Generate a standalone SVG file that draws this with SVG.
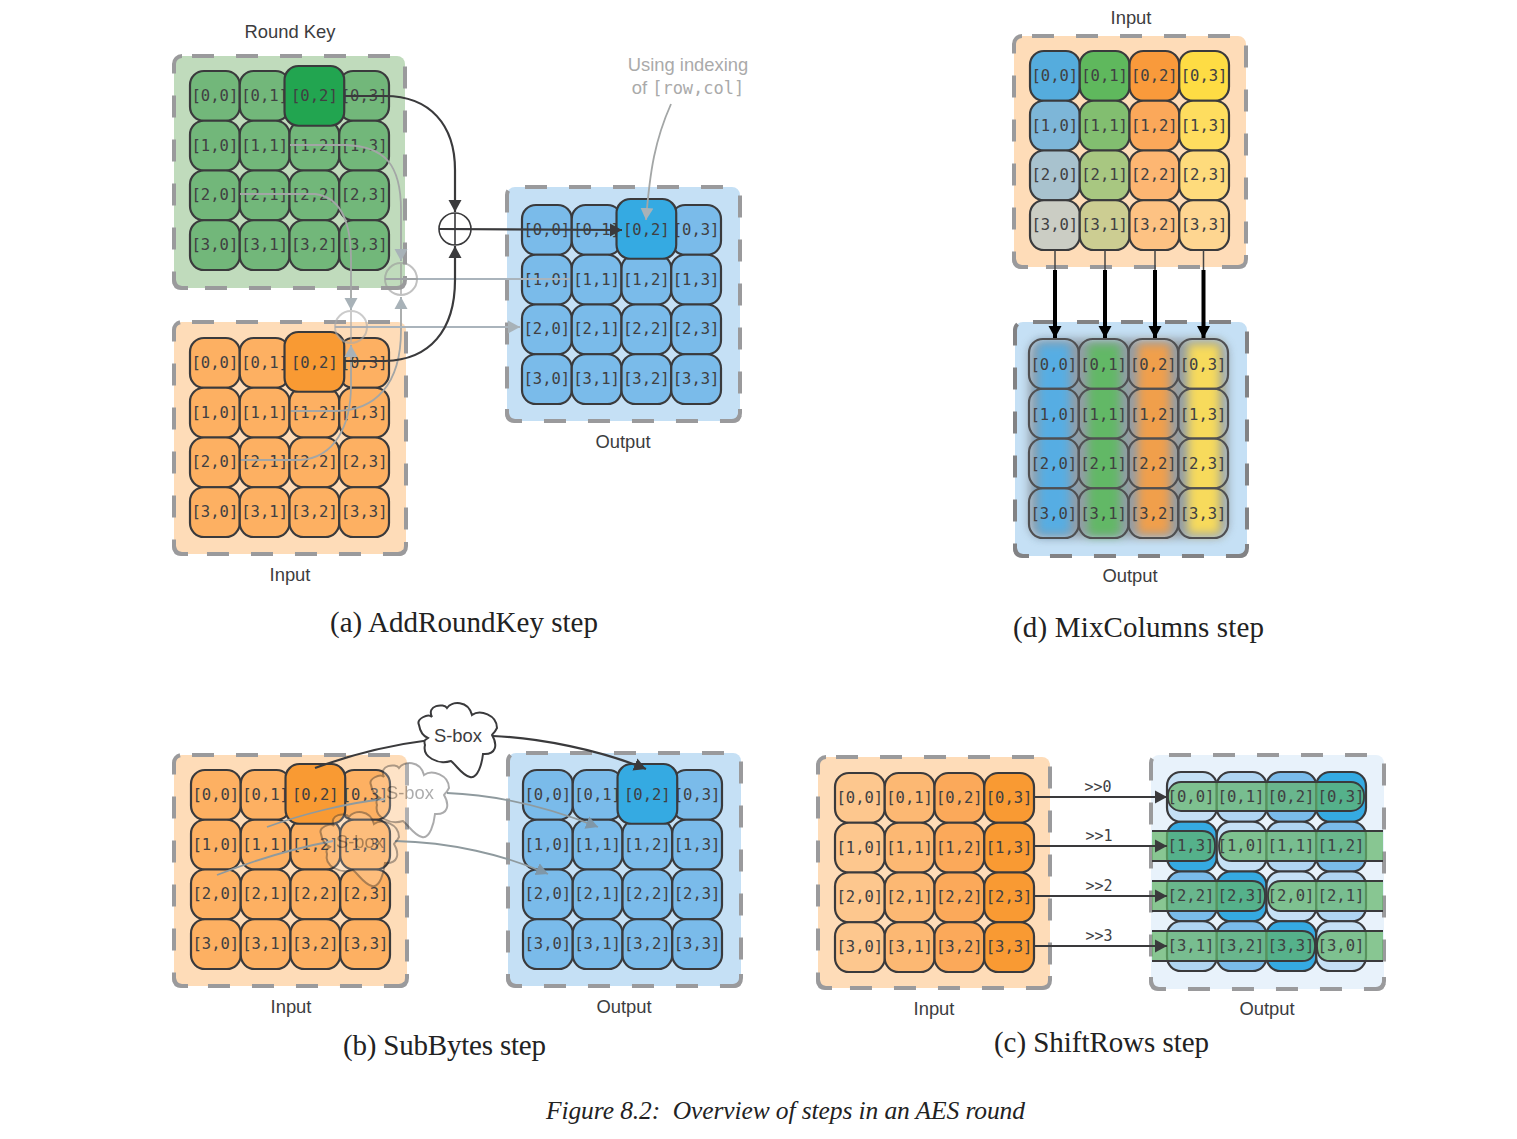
<svg xmlns="http://www.w3.org/2000/svg" width="1517" height="1139" viewBox="0 0 1517 1139">
<style>
.p{stroke:#9a9a9c;stroke-width:4;stroke-dasharray:22 22;stroke-dashoffset:-10}
.pc{fill:none;stroke:#9a9a9c;stroke-width:4}
.pg{fill:#c0dbbc}.po{fill:#fedcb8}.pb{fill:#c5e0f5}.pl{fill:#e8f2fb}
.c{width:50px;height:50px;rx:14px;stroke:#3a3a3c;stroke-width:2.2}
.h{width:60px;height:60px;rx:14px;stroke:#3a3a3c;stroke-width:2.2}
.g{fill:#72b77a}.o{fill:#fdb062}.b{fill:#7abbea}
.t text{font:15.6px "DejaVu Sans Mono",monospace;fill:#404042;text-anchor:middle}
.l{font:18.4px "Liberation Sans",Arial,sans-serif;fill:#3c3c3e;text-anchor:middle}
.cap{font:29px "Liberation Serif",serif;fill:#222}
.fig{font:italic 25.5px "Liberation Serif",serif;fill:#222;white-space:pre}
.d{fill:none;stroke:#3a3a3c;stroke-width:2.2}
.q{fill:none;stroke:#a3a6a6;stroke-width:1.8}
.qb{fill:none;stroke:#8f9a9e;stroke-width:1.8}
.r{fill:none;stroke:#aab4bc;stroke-width:2}
.k{fill:none;stroke:#000;stroke-width:4}
.x{fill:none;stroke:#3a3a3c;stroke-width:1.6}
.cl{fill:#fff;stroke:#3a3a3c;stroke-width:2}
.s{stroke:#3a3a3c;stroke-width:1.8;fill:#62b46a;fill-opacity:.72}
</style>
<defs>
<marker id="a" markerUnits="userSpaceOnUse" markerWidth="13" markerHeight="14" refX="12" refY="7" orient="auto"><path d="M0 .5L12 7L0 13.500Z" fill="#3a3a3c"/></marker>
<marker id="ag" markerUnits="userSpaceOnUse" markerWidth="13" markerHeight="14" refX="12" refY="7" orient="auto"><path d="M0 .5L12 7L0 13.500Z" fill="#a8b2b8"/></marker>
<marker id="as" markerUnits="userSpaceOnUse" markerWidth="13" markerHeight="14" refX="12" refY="7" orient="auto"><path d="M0 .5L12 7L0 13.500Z" fill="#7f97a8"/></marker>
<marker id="ak" markerUnits="userSpaceOnUse" markerWidth="13" markerHeight="14" refX="12" refY="7" orient="auto"><path d="M0 .5L12 7L0 13.500Z" fill="#000"/></marker>
<path id="cloud" d="M-39-12C-42-18-30-24-26-20C-32-32-14-34-11-29C-6-36 10-37 14-22C22-28 39-22 39-9C36-3 34-3 34-2C40 8 38 18 25 17C24 26 20 42 12 40C4 38 0 30-7 24C-20 28-36 20-33 8C-35 2-31 2-30 1C-35-1-38-6-39-12Z"/>
<filter id="bl" x="-40%" y="-20%" width="180%" height="140%"><feGaussianBlur stdDeviation="5"/></filter>
</defs>

<g id="roundkey-a" class="t">
<rect class="p pg" x="174" y="56" width="231" height="232" rx="8"/>
<path class="pc" d="M405 276V280Q405 288 397 288H391M188 288H182Q174 288 174 280V276"/>
<g transform="translate(190 71) scale(.995) translate(-190 -71)">
<rect class="c g" x="190" y="71"/><text x="215" y="101">[0,0]</text>
<rect class="c g" x="240" y="71"/><text x="265" y="101">[0,1]</text>
<rect class="c g" x="340" y="71"/><text x="365" y="101">[0,3]</text>
<rect class="c g" x="190" y="121"/><text x="215" y="151">[1,0]</text>
<rect class="c g" x="240" y="121"/><text x="265" y="151">[1,1]</text>
<rect class="c g" x="290" y="121"/><text x="315" y="151">[1,2]</text>
<rect class="c g" x="340" y="121"/><text x="365" y="151">[1,3]</text>
<rect class="c g" x="190" y="171"/><text x="215" y="201">[2,0]</text>
<rect class="c g" x="240" y="171"/><text x="265" y="201">[2,1]</text>
<rect class="c g" x="290" y="171"/><text x="315" y="201">[2,2]</text>
<rect class="c g" x="340" y="171"/><text x="365" y="201">[2,3]</text>
<rect class="c g" x="190" y="221"/><text x="215" y="251">[3,0]</text>
<rect class="c g" x="240" y="221"/><text x="265" y="251">[3,1]</text>
<rect class="c g" x="290" y="221"/><text x="315" y="251">[3,2]</text>
<rect class="c g" x="340" y="221"/><text x="365" y="251">[3,3]</text>
<rect class="h" style="fill:#22a550" x="285" y="66"/><text x="315" y="101">[0,2]</text>
</g></g>

<g id="input-a" class="t">
<rect class="p po" x="174" y="322" width="232" height="232" rx="8"/>
<path class="pc" d="M406 542V546Q406 554 398 554H392M188 554H182Q174 554 174 546V542"/>
<g transform="translate(190 338) scale(.995) translate(-190 -338)">
<rect class="c o" x="190" y="338"/><text x="215" y="368">[0,0]</text>
<rect class="c o" x="240" y="338"/><text x="265" y="368">[0,1]</text>
<rect class="c o" x="340" y="338"/><text x="365" y="368">[0,3]</text>
<rect class="c o" x="190" y="388"/><text x="215" y="418">[1,0]</text>
<rect class="c o" x="240" y="388"/><text x="265" y="418">[1,1]</text>
<rect class="c o" x="290" y="388"/><text x="315" y="418">[1,2]</text>
<rect class="c o" x="340" y="388"/><text x="365" y="418">[1,3]</text>
<rect class="c o" x="190" y="438"/><text x="215" y="468">[2,0]</text>
<rect class="c o" x="240" y="438"/><text x="265" y="468">[2,1]</text>
<rect class="c o" x="290" y="438"/><text x="315" y="468">[2,2]</text>
<rect class="c o" x="340" y="438"/><text x="365" y="468">[2,3]</text>
<rect class="c o" x="190" y="488"/><text x="215" y="518">[3,0]</text>
<rect class="c o" x="240" y="488"/><text x="265" y="518">[3,1]</text>
<rect class="c o" x="290" y="488"/><text x="315" y="518">[3,2]</text>
<rect class="c o" x="340" y="488"/><text x="365" y="518">[3,3]</text>
<rect class="h" style="fill:#f99a33" x="285" y="332"/><text x="315" y="368">[0,2]</text>
</g></g>

<g id="output-a" class="t">
<rect class="p pb" x="507" y="187" width="233" height="234" rx="8"/>
<path class="pc" d="M740 409V413Q740 421 732 421H726M521 421H515Q507 421 507 413V409"/>
<g transform="translate(522 205) scale(.995) translate(-522 -205)">
<rect class="c b" x="522" y="205"/><text x="547" y="235">[0,0]</text>
<rect class="c b" x="572" y="205"/><text x="597" y="235">[0,1]</text>
<rect class="c b" x="672" y="205"/><text x="697" y="235">[0,3]</text>
<rect class="c b" x="522" y="255"/><text x="547" y="285">[1,0]</text>
<rect class="c b" x="572" y="255"/><text x="597" y="285">[1,1]</text>
<rect class="c b" x="622" y="255"/><text x="647" y="285">[1,2]</text>
<rect class="c b" x="672" y="255"/><text x="697" y="285">[1,3]</text>
<rect class="c b" x="522" y="305"/><text x="547" y="335">[2,0]</text>
<rect class="c b" x="572" y="305"/><text x="597" y="335">[2,1]</text>
<rect class="c b" x="622" y="305"/><text x="647" y="335">[2,2]</text>
<rect class="c b" x="672" y="305"/><text x="697" y="335">[2,3]</text>
<rect class="c b" x="522" y="355"/><text x="547" y="385">[3,0]</text>
<rect class="c b" x="572" y="355"/><text x="597" y="385">[3,1]</text>
<rect class="c b" x="622" y="355"/><text x="647" y="385">[3,2]</text>
<rect class="c b" x="672" y="355"/><text x="697" y="385">[3,3]</text>
<rect class="h" style="fill:#35aae2" x="617" y="199"/><text x="647" y="235">[0,2]</text>
</g></g>

<g id="input-d" class="t">
<rect class="p po" x="1014" y="36" width="232" height="231" rx="8"/>
<path class="pc" d="M1246 255V259Q1246 267 1238 267H1232M1028 267H1022Q1014 267 1014 259V255"/>
<g transform="translate(1030 51) scale(.995) translate(-1030 -51)">
<rect class="c" style="fill:#55acdd" x="1030" y="51"/><text x="1055" y="81">[0,0]</text>
<rect class="c" style="fill:#5fb85d" x="1080" y="51"/><text x="1105" y="81">[0,1]</text>
<rect class="c" style="fill:#f99a3b" x="1130" y="51"/><text x="1155" y="81">[0,2]</text>
<rect class="c" style="fill:#fedc44" x="1180" y="51"/><text x="1205" y="81">[0,3]</text>
<rect class="c" style="fill:#7db6d8" x="1030" y="101"/><text x="1055" y="131">[1,0]</text>
<rect class="c" style="fill:#82be70" x="1080" y="101"/><text x="1105" y="131">[1,1]</text>
<rect class="c" style="fill:#fba85a" x="1130" y="101"/><text x="1155" y="131">[1,2]</text>
<rect class="c" style="fill:#fedd5f" x="1180" y="101"/><text x="1205" y="131">[1,3]</text>
<rect class="c" style="fill:#a8c2ce" x="1030" y="151"/><text x="1055" y="181">[2,0]</text>
<rect class="c" style="fill:#a8c781" x="1080" y="151"/><text x="1105" y="181">[2,1]</text>
<rect class="c" style="fill:#fdb672" x="1130" y="151"/><text x="1155" y="181">[2,2]</text>
<rect class="c" style="fill:#fedb7c" x="1180" y="151"/><text x="1205" y="181">[2,3]</text>
<rect class="c" style="fill:#cbcdc4" x="1030" y="201"/><text x="1055" y="231">[3,0]</text>
<rect class="c" style="fill:#cccd92" x="1080" y="201"/><text x="1105" y="231">[3,1]</text>
<rect class="c" style="fill:#fdc283" x="1130" y="201"/><text x="1155" y="231">[3,2]</text>
<rect class="c" style="fill:#fed691" x="1180" y="201"/><text x="1205" y="231">[3,3]</text>
</g></g>

<g id="output-d" class="t">
<rect class="p pb" style="stroke:#828284" x="1015" y="322" width="232" height="234" rx="8"/>
<path class="pc" style="stroke:#828284" d="M1247 544V548Q1247 556 1239 556H1233M1029 556H1023Q1015 556 1015 548V544"/>
<rect x="1029" y="339" width="199" height="199" rx="14" fill="#8a9299" opacity=".85" filter="url(#bl)"/>
<rect x="1038" y="344" width="32" height="190" fill="#57ade3" filter="url(#bl)"/>
<rect x="1088" y="344" width="32" height="192" fill="#62b866" filter="url(#bl)"/>
<rect x="1138" y="344" width="32" height="190" fill="#f09f4c" filter="url(#bl)"/>
<rect x="1188" y="344" width="32" height="190" fill="#f7da5c" filter="url(#bl)"/>
<g fill="none" transform="translate(1029 339) scale(.995) translate(-1029 -339)">
<rect class="c" style="stroke:#505052" x="1029" y="339"/><text x="1054" y="370">[0,0]</text>
<rect class="c" style="stroke:#505052" x="1079" y="339"/><text x="1104" y="370">[0,1]</text>
<rect class="c" style="stroke:#505052" x="1129" y="339"/><text x="1154" y="370">[0,2]</text>
<rect class="c" style="stroke:#505052" x="1179" y="339"/><text x="1204" y="370">[0,3]</text>
<rect class="c" style="stroke:#505052" x="1029" y="389"/><text x="1054" y="420">[1,0]</text>
<rect class="c" style="stroke:#505052" x="1079" y="389"/><text x="1104" y="420">[1,1]</text>
<rect class="c" style="stroke:#505052" x="1129" y="389"/><text x="1154" y="420">[1,2]</text>
<rect class="c" style="stroke:#505052" x="1179" y="389"/><text x="1204" y="420">[1,3]</text>
<rect class="c" style="stroke:#505052" x="1029" y="439"/><text x="1054" y="470">[2,0]</text>
<rect class="c" style="stroke:#505052" x="1079" y="439"/><text x="1104" y="470">[2,1]</text>
<rect class="c" style="stroke:#505052" x="1129" y="439"/><text x="1154" y="470">[2,2]</text>
<rect class="c" style="stroke:#505052" x="1179" y="439"/><text x="1204" y="470">[2,3]</text>
<rect class="c" style="stroke:#505052" x="1029" y="489"/><text x="1054" y="520">[3,0]</text>
<rect class="c" style="stroke:#505052" x="1079" y="489"/><text x="1104" y="520">[3,1]</text>
<rect class="c" style="stroke:#505052" x="1129" y="489"/><text x="1154" y="520">[3,2]</text>
<rect class="c" style="stroke:#505052" x="1179" y="489"/><text x="1204" y="520">[3,3]</text>
</g></g>

<g id="input-b" class="t">
<rect class="p po" x="174" y="755" width="233" height="231" rx="8"/>
<path class="pc" d="M407 974V978Q407 986 399 986H393M188 986H182Q174 986 174 978V974"/>
<g transform="translate(191 770) scale(.995) translate(-191 -770)">
<rect class="c o" x="191" y="770"/><text x="216" y="800">[0,0]</text>
<rect class="c o" x="241" y="770"/><text x="266" y="800">[0,1]</text>
<rect class="c o" x="341" y="770"/><text x="366" y="800">[0,3]</text>
<rect class="c o" x="191" y="820"/><text x="216" y="850">[1,0]</text>
<rect class="c o" x="241" y="820"/><text x="266" y="850">[1,1]</text>
<rect class="c o" x="291" y="820"/><text x="316" y="850">[1,2]</text>
<rect class="c o" x="341" y="820"/><text x="366" y="850">[1,3]</text>
<rect class="c o" x="191" y="870"/><text x="216" y="900">[2,0]</text>
<rect class="c o" x="241" y="870"/><text x="266" y="900">[2,1]</text>
<rect class="c o" x="291" y="870"/><text x="316" y="900">[2,2]</text>
<rect class="c o" x="341" y="870"/><text x="366" y="900">[2,3]</text>
<rect class="c o" x="191" y="920"/><text x="216" y="950">[3,0]</text>
<rect class="c o" x="241" y="920"/><text x="266" y="950">[3,1]</text>
<rect class="c o" x="291" y="920"/><text x="316" y="950">[3,2]</text>
<rect class="c o" x="341" y="920"/><text x="366" y="950">[3,3]</text>
<rect class="h" style="fill:#f99a33" x="286" y="764"/><text x="316" y="800">[0,2]</text>
</g></g>

<g id="output-b" class="t">
<rect class="p pb" x="508" y="753" width="233" height="233" rx="8"/>
<path class="pc" d="M741 974V978Q741 986 733 986H727M522 986H516Q508 986 508 978V974"/>
<g transform="translate(523 770) scale(.995) translate(-523 -770)">
<rect class="c b" x="523" y="770"/><text x="548" y="800">[0,0]</text>
<rect class="c b" x="573" y="770"/><text x="598" y="800">[0,1]</text>
<rect class="c b" x="673" y="770"/><text x="698" y="800">[0,3]</text>
<rect class="c b" x="523" y="820"/><text x="548" y="850">[1,0]</text>
<rect class="c b" x="573" y="820"/><text x="598" y="850">[1,1]</text>
<rect class="c b" x="623" y="820"/><text x="648" y="850">[1,2]</text>
<rect class="c b" x="673" y="820"/><text x="698" y="850">[1,3]</text>
<rect class="c b" x="523" y="870"/><text x="548" y="900">[2,0]</text>
<rect class="c b" x="573" y="870"/><text x="598" y="900">[2,1]</text>
<rect class="c b" x="623" y="870"/><text x="648" y="900">[2,2]</text>
<rect class="c b" x="673" y="870"/><text x="698" y="900">[2,3]</text>
<rect class="c b" x="523" y="920"/><text x="548" y="950">[3,0]</text>
<rect class="c b" x="573" y="920"/><text x="598" y="950">[3,1]</text>
<rect class="c b" x="623" y="920"/><text x="648" y="950">[3,2]</text>
<rect class="c b" x="673" y="920"/><text x="698" y="950">[3,3]</text>
<rect class="h" style="fill:#35aae2" x="618" y="764"/><text x="648" y="800">[0,2]</text>
</g></g>

<g id="input-c" class="t">
<rect class="p po" x="818" y="757" width="232" height="231" rx="8"/>
<path class="pc" d="M1050 976V980Q1050 988 1042 988H1036M832 988H826Q818 988 818 980V976"/>
<g transform="translate(835 773) scale(.995) translate(-835 -773)">
<rect class="c" style="fill:#fdc78e" x="835" y="773"/><text x="860" y="803">[0,0]</text>
<rect class="c" style="fill:#fcb873" x="885" y="773"/><text x="910" y="803">[0,1]</text>
<rect class="c" style="fill:#fba95a" x="935" y="773"/><text x="960" y="803">[0,2]</text>
<rect class="c" style="fill:#f99a33" x="985" y="773"/><text x="1010" y="803">[0,3]</text>
<rect class="c" style="fill:#fdc78e" x="835" y="823"/><text x="860" y="853">[1,0]</text>
<rect class="c" style="fill:#fcb873" x="885" y="823"/><text x="910" y="853">[1,1]</text>
<rect class="c" style="fill:#fba95a" x="935" y="823"/><text x="960" y="853">[1,2]</text>
<rect class="c" style="fill:#f99a33" x="985" y="823"/><text x="1010" y="853">[1,3]</text>
<rect class="c" style="fill:#fdc78e" x="835" y="873"/><text x="860" y="903">[2,0]</text>
<rect class="c" style="fill:#fcb873" x="885" y="873"/><text x="910" y="903">[2,1]</text>
<rect class="c" style="fill:#fba95a" x="935" y="873"/><text x="960" y="903">[2,2]</text>
<rect class="c" style="fill:#f99a33" x="985" y="873"/><text x="1010" y="903">[2,3]</text>
<rect class="c" style="fill:#fdc78e" x="835" y="923"/><text x="860" y="953">[3,0]</text>
<rect class="c" style="fill:#fcb873" x="885" y="923"/><text x="910" y="953">[3,1]</text>
<rect class="c" style="fill:#fba95a" x="935" y="923"/><text x="960" y="953">[3,2]</text>
<rect class="c" style="fill:#f99a33" x="985" y="923"/><text x="1010" y="953">[3,3]</text>
</g></g>

<g id="output-c" class="t">
<rect class="p pl" x="1151" y="755" width="233" height="234" rx="8"/>
<path class="pc" d="M1384 977V981Q1384 989 1376 989H1370M1165 989H1159Q1151 989 1151 981V977"/>
<g transform="translate(1167 772) scale(.995) translate(-1167 -772)">
<rect class="c" style="fill:#c5e0f5" x="1167" y="772"/>
<rect class="c" style="fill:#b0d5f2" x="1217" y="772"/>
<rect class="c" style="fill:#7abbea" x="1267" y="772"/>
<rect class="c" style="fill:#35aae2" x="1317" y="772"/>
<rect class="c" style="fill:#35aae2" x="1167" y="822"/>
<rect class="c" style="fill:#c5e0f5" x="1217" y="822"/>
<rect class="c" style="fill:#b0d5f2" x="1267" y="822"/>
<rect class="c" style="fill:#7abbea" x="1317" y="822"/>
<rect class="c" style="fill:#7abbea" x="1167" y="872"/>
<rect class="c" style="fill:#35aae2" x="1217" y="872"/>
<rect class="c" style="fill:#c5e0f5" x="1267" y="872"/>
<rect class="c" style="fill:#b0d5f2" x="1317" y="872"/>
<rect class="c" style="fill:#b0d5f2" x="1167" y="922"/>
<rect class="c" style="fill:#7abbea" x="1217" y="922"/>
<rect class="c" style="fill:#35aae2" x="1267" y="922"/>
<rect class="c" style="fill:#c5e0f5" x="1317" y="922"/>
</g>
<rect class="s" x="1168" y="782" width="196" height="29" rx="13"/>
<path class="s" d="M1152 831H1202Q1215 831 1215 846Q1215 861 1202 861H1152"/>
<path class="s" d="M1383 831H1232Q1219 831 1219 846Q1219 861 1232 861H1383"/>
<path class="s" d="M1152 881H1252Q1265 881 1265 896Q1265 911 1252 911H1152"/>
<path class="s" d="M1383 881H1281Q1268 881 1268 896Q1268 911 1281 911H1383"/>
<path class="s" d="M1152 931H1302Q1315 931 1315 946Q1315 961 1302 961H1152"/>
<path class="s" d="M1383 931H1330Q1317 931 1317 946Q1317 961 1330 961H1383"/>
<text x="1191" y="802">[0,0]</text><text x="1241" y="802">[0,1]</text><text x="1291" y="802">[0,2]</text><text x="1341" y="802">[0,3]</text>
<text x="1191" y="851">[1,3]</text><text x="1241" y="851">[1,0]</text><text x="1291" y="851">[1,1]</text><text x="1341" y="851">[1,2]</text>
<text x="1191" y="901">[2,2]</text><text x="1241" y="901">[2,3]</text><text x="1291" y="901">[2,0]</text><text x="1341" y="901">[2,1]</text>
<text x="1191" y="951">[3,1]</text><text x="1241" y="951">[3,2]</text><text x="1291" y="951">[3,3]</text><text x="1341" y="951">[3,0]</text>
</g>

<g id="connectors">
<!-- a: ghost connectors -->
<path class="q" d="M290 145H345C385 146 401 165 401 210V261" marker-end="url(#ag)"/>
<path class="q" d="M240 194H315C340 197 351 220 351 260V310" marker-end="url(#ag)"/>
<path class="q" d="M291 411H335C375 411 401 385 401 330V297" marker-end="url(#ag)"/>
<path class="q" d="M241 460H300C335 458 351 425 351 385V345" marker-end="url(#ag)"/>
<path class="r" d="M385 279H570"/>
<path class="r" d="M335 327H520" marker-end="url(#ag)"/>
<!-- a: main connectors -->
<path class="d" d="M345 96H385C430 96 455 125 455 170V212" marker-end="url(#a)"/>
<path class="d" d="M345 361H385C430 360 455 330 455 280V246" marker-end="url(#a)"/>
<path class="d" d="M439 229L622 230" marker-end="url(#a)"/>
<path class="q" d="M671 104C655 140 650 170 646 220" marker-end="url(#ag)"/>
<!-- b -->
<path class="d" d="M315 768C350 755 390 745 430 740"/>
<path class="d" d="M493 736C540 738 600 750 646 769" marker-end="url(#a)"/>
<path class="qb" d="M267 827C300 815 345 803 385 799"/>
<path class="qb" d="M447 793C500 795 550 808 598 827" marker-end="url(#as)"/>
<path class="qb" d="M217 875C255 860 295 848 333 841"/>
<path class="qb" d="M395 841C450 842 505 855 548 874" marker-end="url(#as)"/>
<!-- c -->
<path class="d" d="M1034 797H1167" marker-end="url(#a)"/>
<path class="d" d="M1034 846H1167" marker-end="url(#a)"/>
<path class="d" d="M1034 896H1167" marker-end="url(#a)"/>
<path class="d" d="M1034 946H1167" marker-end="url(#a)"/>
<!-- d -->
<path stroke="#444" stroke-width="1.5" d="M1055 250V270M1105 250V270M1155 250V270M1203.500 250V270"/>
<path class="k" d="M1055 270V338" marker-end="url(#ak)"/>
<path class="k" d="M1105 270V338" marker-end="url(#ak)"/>
<path class="k" d="M1155 270V338" marker-end="url(#ak)"/>
<path class="k" d="M1203.500 270V338" marker-end="url(#ak)"/>
</g>

<g id="xor-main"><circle class="x" cx="455" cy="229" r="16" fill="none"/><path class="x" d="M439 229H471M455 213V245"/></g>
<g id="xor-ghost-1" opacity=".6"><circle class="r" style="stroke:#999" cx="401" cy="279" r="16"/><path class="r" style="stroke:#999" d="M385 279H417M401 263V295"/></g>
<g id="xor-ghost-2" opacity=".6"><circle class="r" style="stroke:#aaa" cx="351" cy="327" r="16"/><path class="r" style="stroke:#aaa" d="M335 327H367M351 311V343"/></g>

<g id="sbox-main"><use href="#cloud" x="458" y="737" class="cl"/><text class="l" x="458" y="742">S-box</text></g>
<g id="sbox-ghost-1" opacity=".42"><use href="#cloud" x="410" y="797" style="fill:#fff;fill-opacity:.5;stroke:#3a3a3c;stroke-width:2"/><text class="l" x="410" y="799">S-box</text></g>
<g id="sbox-ghost-2" opacity=".42"><use href="#cloud" x="360" y="846" style="fill:#fff;fill-opacity:.4;stroke:#3a3a3c;stroke-width:2"/><text class="l" x="360" y="848">S-box</text></g>

<g id="labels">
<text class="l" x="290" y="38">Round Key</text>
<text class="l" x="623" y="448">Output</text>
<text class="l" x="290" y="581">Input</text>
<text class="l" x="1131" y="24">Input</text>
<text class="l" x="1130" y="582">Output</text>
<text class="l" x="291" y="1013">Input</text>
<text class="l" x="624" y="1013">Output</text>
<text class="l" x="934" y="1015">Input</text>
<text class="l" x="1267" y="1015">Output</text>
<text class="l" style="fill:#aaa" x="688" y="71">Using indexing</text>
<text class="l" style="fill:#aaa" x="688" y="94">of <tspan style="font-family:'DejaVu Sans Mono',monospace;font-size:17px">[row,col]</tspan></text>
<g class="t">
<text style="font-size:15px" x="1098" y="792">&gt;&gt;0</text>
<text style="font-size:15px" x="1099" y="841">&gt;&gt;1</text>
<text style="font-size:15px" x="1099" y="891">&gt;&gt;2</text>
<text style="font-size:15px" x="1099" y="941">&gt;&gt;3</text>
</g>
<text class="cap" x="330" y="632" textLength="268">(a) AddRoundKey step</text>
<text class="cap" x="1013" y="637" textLength="251">(d) MixColumns step</text>
<text class="cap" x="343" y="1055" textLength="203">(b) SubBytes step</text>
<text class="cap" x="994" y="1052" textLength="215">(c) ShiftRows step</text>
<text class="fig" x="546" y="1119" textLength="479">Figure 8.2:  Overview of steps in an AES round</text>
</g>
</svg>
